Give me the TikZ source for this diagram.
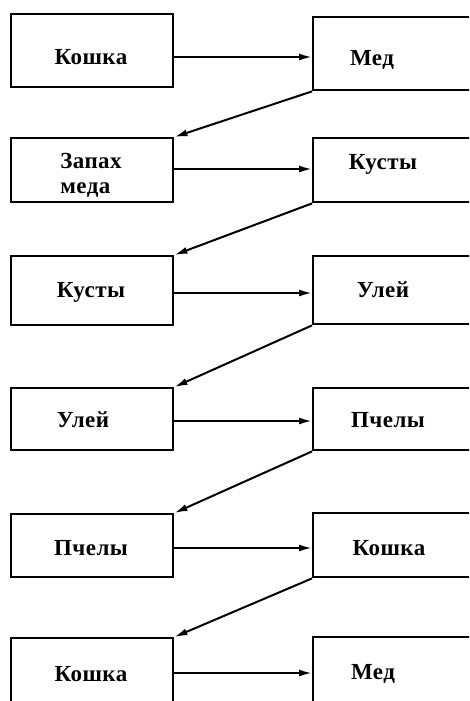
\documentclass[tikz,border=0pt]{standalone}
\usepackage{fontspec}
\newfontfamily\lblfont[LetterSpace=2]{Liberation Serif}
\usetikzlibrary{arrows.meta}
\begin{document}
\begin{tikzpicture}[x=1pt,y=-1pt,
  box/.style={draw, line width=2.4pt, rectangle, inner sep=0pt, anchor=north west},
  lbox/.style={box, minimum width=162pt},
  rbox/.style={box, minimum width=200pt},
  lbl/.style={font=\fontsize{23}{25}\selectfont\lblfont\bfseries, inner sep=0pt},
  conn/.style={line width=2pt, -{Latex[length=13pt,width=7pt]}}]
\useasboundingbox (0,0) rectangle (469,701);
\clip (0,0) rectangle (469,701);
% boxes
\node[lbox, minimum height=73pt] (L1) at (10,13) {};
\node[rbox, minimum height=73pt] (R1) at (312,16) {};
\node[lbox, minimum height=64pt] (L2) at (10,137) {};
\node[rbox, minimum height=64pt] (R2) at (312,137) {};
\node[lbox, minimum height=69pt] (L3) at (10,255) {};
\node[rbox, minimum height=68pt] (R3) at (312,255) {};
\node[lbox, minimum height=62pt] (L4) at (10,387) {};
\node[rbox, minimum height=62pt] (R4) at (312,387) {};
\node[lbox, minimum height=63pt] (L5) at (10,513) {};
\node[rbox, minimum height=64pt] (R5) at (312,512) {};
\node[lbox, minimum height=90pt] (L6) at (10,637) {};
\node[rbox, minimum height=90pt] (R6) at (312,636) {};
% labels
\node[lbl] (tL1) at (91,57) {Кошка};
\node[lbl] (tR1) at (372,60) {Мед};
\node[lbl, align=left] (tL2) at (91,175) {Запах\\меда};
\node[lbl] (tR2) at (383,164) {Кусты};
\node[lbl] (tL3) at (91,292) {Кусты};
\node[lbl] (tR3) at (383,290) {Улей};
\node[lbl] (tL4) at (83,420) {Улей};
\node[lbl] (tR4) at (388,420) {Пчелы};
\node[lbl] (tL5) at (91,548) {Пчелы};
\node[lbl] (tR5) at (389,548) {Кошка};
\node[lbl] (tL6) at (91,674) {Кошка};
\node[lbl] (tR6) at (373,674) {Мед};
% arrow heights
\coordinate (h1) at (0,57);
\coordinate (h2) at (0,169);
\coordinate (h3) at (0,293);
\coordinate (h4) at (0,421);
\coordinate (h5) at (0,548);
\coordinate (h6) at (0,673);
% horizontal connectors
\draw[conn] (L1.east |- h1) -- (R1.west |- h1);
\draw[conn] (L2.east |- h2) -- (R2.west |- h2);
\draw[conn] (L3.east |- h3) -- (R3.west |- h3);
\draw[conn] (L4.east |- h4) -- (R4.west |- h4);
\draw[conn] (L5.east |- h5) -- (R5.west |- h5);
\draw[conn] (L6.east |- h6) -- (R6.west |- h6);
% diagonal connectors
\draw[conn] (R1.south west) -- (L2.north east);
\draw[conn] (R2.south west) -- (L3.north east);
\draw[conn] (R3.south west) -- (L4.north east);
\draw[conn] (R4.south west) -- (L5.north east);
\draw[conn] (R5.south west) -- (L6.north east);
\end{tikzpicture}
\end{document}
